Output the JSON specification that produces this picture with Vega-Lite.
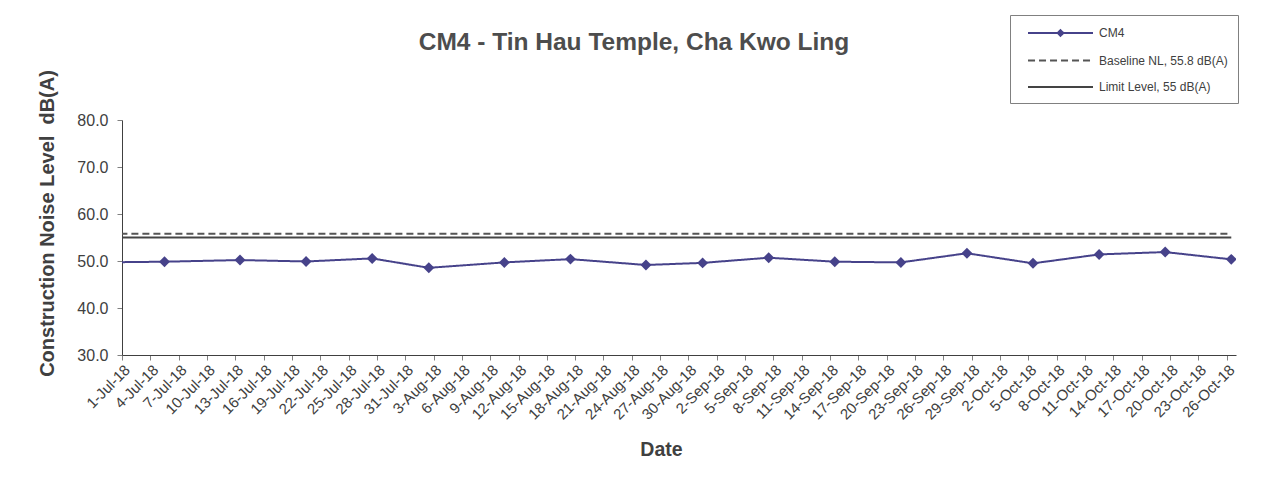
{
  "$schema": "https://vega.github.io/schema/vega-lite/v6.json",
  "width": 1114,
  "height": 235,
  "autosize": "none",
  "padding": {"left": 122, "top": 120, "right": 48, "bottom": 130},
  "background": "white",
  "config": {
    "font": "Liberation Sans",
    "view": {"stroke": null},
    "axis": {"grid": false, "domainColor": "#404040", "tickColor": "#808080", "labelColor": "#404040", "titleColor": "#404040", "labelFont": "Liberation Sans", "titleFont": "Liberation Sans"}
  },
  "title": {
    "text": "CM4 - Tin Hau Temple, Cha Kwo Ling",
    "fontSize": 24.5,
    "fontWeight": "bold",
    "color": "#4d4d4d",
    "font": "Liberation Sans",
    "anchor": "middle",
    "frame": "group",
    "baseline": "alphabetic",
    "dx": -45,
    "offset": 0,
    "dy": 59.5
  },
  "datasets": {
    "noise": [
      {"date": "2018-06-28 12:00", "value": 49.7, "series": "CM4"},
      {"date": "2018-07-05 12:00", "value": 49.85, "series": "CM4"},
      {"date": "2018-07-13 12:00", "value": 50.2, "series": "CM4"},
      {"date": "2018-07-20 12:00", "value": 49.9, "series": "CM4"},
      {"date": "2018-07-27 12:00", "value": 50.55, "series": "CM4"},
      {"date": "2018-08-02 12:00", "value": 48.55, "series": "CM4"},
      {"date": "2018-08-10 12:00", "value": 49.7, "series": "CM4"},
      {"date": "2018-08-17 12:00", "value": 50.4, "series": "CM4"},
      {"date": "2018-08-25 12:00", "value": 49.15, "series": "CM4"},
      {"date": "2018-08-31 12:00", "value": 49.6, "series": "CM4"},
      {"date": "2018-09-07 12:00", "value": 50.7, "series": "CM4"},
      {"date": "2018-09-14 12:00", "value": 49.85, "series": "CM4"},
      {"date": "2018-09-21 12:00", "value": 49.7, "series": "CM4"},
      {"date": "2018-09-28 12:00", "value": 51.65, "series": "CM4"},
      {"date": "2018-10-05 12:00", "value": 49.5, "series": "CM4"},
      {"date": "2018-10-12 12:00", "value": 51.4, "series": "CM4"},
      {"date": "2018-10-19 12:00", "value": 51.9, "series": "CM4"},
      {"date": "2018-10-26 12:00", "value": 50.35, "series": "CM4"},
      {"date": "2018-06-28 12:00", "value": 55.8, "series": "Baseline NL, 55.8 dB(A)"},
      {"date": "2018-10-26 12:00", "value": 55.8, "series": "Baseline NL, 55.8 dB(A)"},
      {"date": "2018-06-28 12:00", "value": 55, "series": "Limit Level, 55 dB(A)"},
      {"date": "2018-10-26 12:00", "value": 55, "series": "Limit Level, 55 dB(A)"}
    ]
  },
  "data": {"name": "noise"},
  "encoding": {
    "x": {
      "field": "date",
      "type": "temporal",
      "scale": {"domain": [{"year": 2018, "month": 7, "date": 1}, {"year": 2018, "month": 10, "date": 27}]},
      "axis": {
        "title": "Date",
        "titleFontSize": 19.5,
        "titleFontWeight": "bold",
        "titleX": 539,
        "titleY": 100,
        "titleBaseline": "alphabetic",
        "format": "%-d-%b-%y",
        "labelAngle": -45,
        "labelFontSize": 15,
        "labelPadding": 2,
        "tickSize": 5,
        "labelOverlap": false,
        "labelFlush": false,
        "values": [
          {"year": 2018, "month": 7, "date": 1}, {"year": 2018, "month": 7, "date": 4}, {"year": 2018, "month": 7, "date": 7}, {"year": 2018, "month": 7, "date": 10}, {"year": 2018, "month": 7, "date": 13}, {"year": 2018, "month": 7, "date": 16}, {"year": 2018, "month": 7, "date": 19}, {"year": 2018, "month": 7, "date": 22}, {"year": 2018, "month": 7, "date": 25}, {"year": 2018, "month": 7, "date": 28}, {"year": 2018, "month": 7, "date": 31},
          {"year": 2018, "month": 8, "date": 3}, {"year": 2018, "month": 8, "date": 6}, {"year": 2018, "month": 8, "date": 9}, {"year": 2018, "month": 8, "date": 12}, {"year": 2018, "month": 8, "date": 15}, {"year": 2018, "month": 8, "date": 18}, {"year": 2018, "month": 8, "date": 21}, {"year": 2018, "month": 8, "date": 24}, {"year": 2018, "month": 8, "date": 27}, {"year": 2018, "month": 8, "date": 30},
          {"year": 2018, "month": 9, "date": 2}, {"year": 2018, "month": 9, "date": 5}, {"year": 2018, "month": 9, "date": 8}, {"year": 2018, "month": 9, "date": 11}, {"year": 2018, "month": 9, "date": 14}, {"year": 2018, "month": 9, "date": 17}, {"year": 2018, "month": 9, "date": 20}, {"year": 2018, "month": 9, "date": 23}, {"year": 2018, "month": 9, "date": 26}, {"year": 2018, "month": 9, "date": 29},
          {"year": 2018, "month": 10, "date": 2}, {"year": 2018, "month": 10, "date": 5}, {"year": 2018, "month": 10, "date": 8}, {"year": 2018, "month": 10, "date": 11}, {"year": 2018, "month": 10, "date": 14}, {"year": 2018, "month": 10, "date": 17}, {"year": 2018, "month": 10, "date": 20}, {"year": 2018, "month": 10, "date": 23}, {"year": 2018, "month": 10, "date": 26}
        ]
      }
    },
    "y": {
      "field": "value",
      "type": "quantitative",
      "scale": {"domain": [30, 80], "nice": false, "zero": false},
      "axis": {
        "title": "Construction Noise Level\u00a0\u00a0dB(A)",
        "titleFontSize": 20,
        "titleFontWeight": "bold",
        "titleX": -69,
        "titleY": 103,
        "titleAngle": -90,
        "titleBaseline": "alphabetic",
        "titleAlign": "center",
        "values": [30, 40, 50, 60, 70, 80],
        "format": ".1f",
        "labelFontSize": 16,
        "labelPadding": 9,
        "tickSize": 5
      }
    }
  },
  "layer": [
    {
      "mark": {"type": "line", "strokeWidth": 2, "clip": true},
      "encoding": {
        "color": {
          "field": "series",
          "type": "nominal",
          "scale": {"domain": ["CM4", "Baseline NL, 55.8 dB(A)", "Limit Level, 55 dB(A)"], "range": ["#46428A", "#555555", "#444444"]},
          "legend": {
            "orient": "none",
            "legendX": 888,
            "legendY": -105,
            "title": null,
            "symbolType": "stroke",
            "symbolSize": 196,
            "symbolStrokeWidth": 2,
            "labelFontSize": 12,
            "labelColor": "#404040",
            "labelFont": "Liberation Sans",
            "labelLimit": 300,
            "labelOffset": 63,
            "strokeColor": "#808080",
            "padding": 10,
            "rowPadding": 12.5,
            "encode": {
              "symbols": {
                "update": {
                  "shape": {"signal": "datum.value === 'CM4' ? 'M-4.64,0H4.64M0,-0.4L0.4,0L0,0.4L-0.4,0Z' : 'M-4.64,0H4.64'"},
                  "fill": {"signal": "datum.value === 'CM4' ? '#46428A' : 'transparent'"},
                  "xc": {"value": 40.5}
                }
              }
            }
          }
        },
        "strokeDash": {
          "field": "series",
          "type": "nominal",
          "scale": {"domain": ["CM4", "Baseline NL, 55.8 dB(A)", "Limit Level, 55 dB(A)"], "range": [[1, 0], [7, 4], [1, 0]]},
          "legend": {
            "orient": "none",
            "legendX": 888,
            "legendY": -105,
            "title": null
          }
        }
      }
    },
    {
      "transform": [{"filter": "datum.series === 'CM4'"}],
      "mark": {"type": "point", "shape": "diamond", "filled": true, "size": 120, "color": "#46428A", "opacity": 1, "clip": true}
    }
  ]
}
